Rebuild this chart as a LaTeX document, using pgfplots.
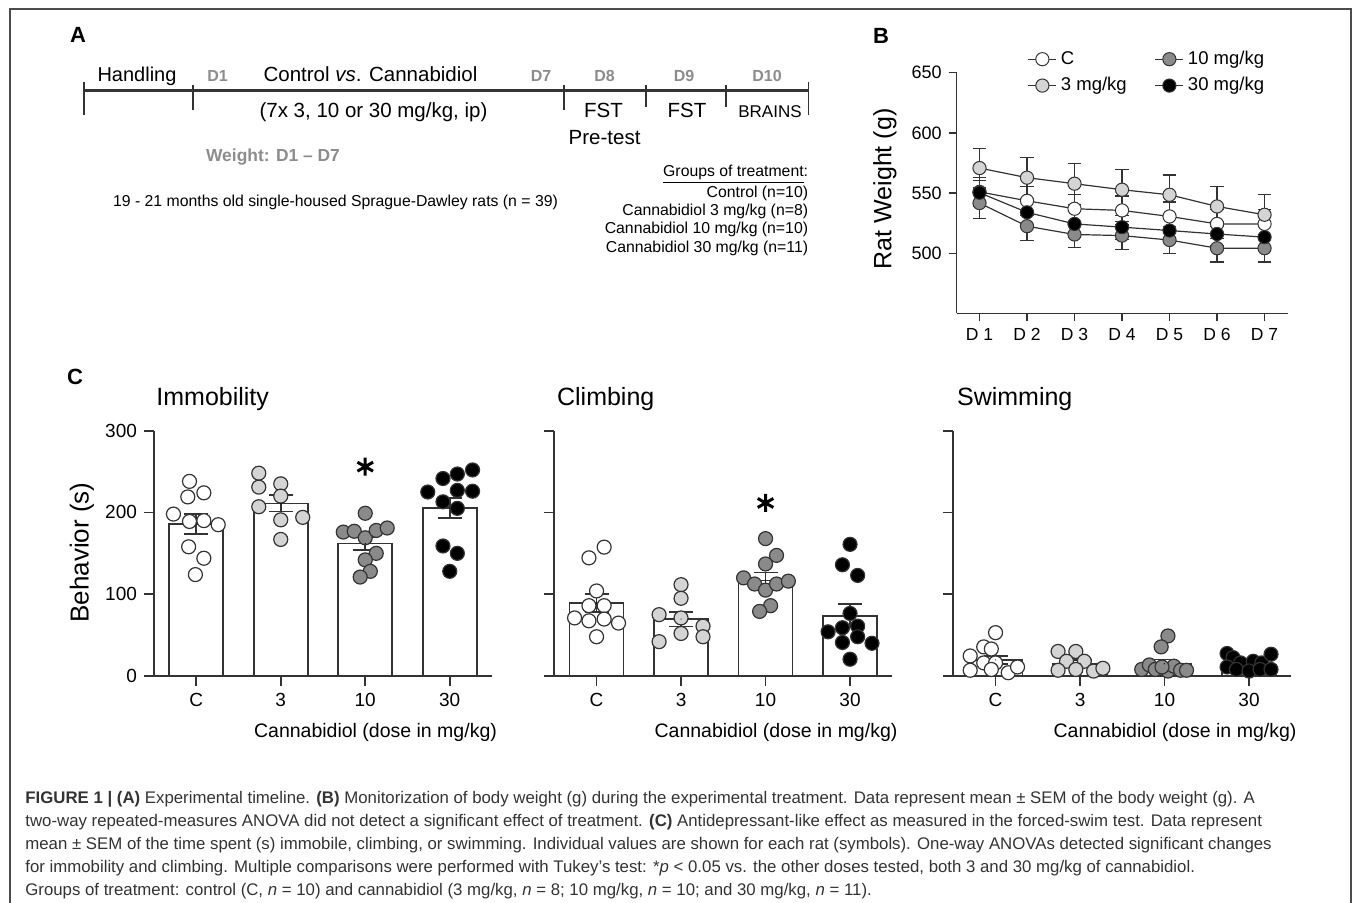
\documentclass[border=0pt]{standalone}
\usepackage{pgfplots}
\pgfplotsset{compat=1.18}
\usepackage{fontspec}
\setmainfont{Liberation Sans}
\definecolor{lg}{HTML}{D4D4D4}
\definecolor{dg}{HTML}{8A8A8A}
\definecolor{ol}{HTML}{333333}
\definecolor{tg}{HTML}{8C8C8C}
\definecolor{capc}{HTML}{333333}
\newcommand{\fs}[1]{\fontsize{#1pt}{#1pt}\selectfont}
\pgfplotsset{
 cpanel/.style={scale only axis, width=169pt, height=122.65pt, xmin=-0.5, xmax=3.5, ymin=0, ymax=300,
  axis lines=left, axis line style={-, line width=0.9pt, ol},
  xtick={0,1,2,3}, xticklabels={C,3,10,30}, ytick={0,100,200,300},
  tick align=outside, major tick length=5pt, tick style={line width=0.9pt, ol},
  tick label style={font=\fs{9.5}}, /pgf/number format/assume math mode=true, clip=false},
 bars/.style={ybar, bar width=27pt, fill=white, draw=ol, line width=0.8pt},
 pts/.style={only marks, mark=*, mark size=3.5pt, color=ol, mark options={fill=#1, draw=ol, line width=0.6pt}},
 sem/.style={only marks, mark=*, mark size=0.01pt, mark options={draw=none, fill=none}, error bars/.cd, y dir=both, y explicit, error bar style={draw=ol, line width=0.8pt}, error mark options={rotate=90, mark size=6pt, draw=ol, line width=0.8pt}},
 star/.style={only marks, mark=asterisk, mark size=4.5pt, line width=1.5pt, black},
 bplot/.style={color=ol, line width=0.6pt, mark=*, mark size=3.3pt, mark options={fill=#1, draw=ol, line width=0.5pt, solid}, error bars/.cd, y dir=both, y explicit, error bar style={line width=0.6pt, ol}, error mark options={rotate=90, mark size=3.3pt, line width=0.6pt, ol}},
}
\begin{document}
\begin{tikzpicture}[x=0.5pt,y=0.5pt]
\useasboundingbox (0,0) rectangle (1355,903);
% frame
\draw[gray!60!black, line width=0.6pt] (10,0) -- (10,894) -- (1351,894) -- (1351,0);

% ---------------- Panel A ----------------
\node[font=\bfseries\fs{11}] at (78,868) {A};
\draw[ol, line width=1.5pt] (84,812.3) -- (808.5,812.3);
\draw[ol, line width=0.8pt] (84,821.3) -- (84,788);
\draw[ol, line width=0.8pt] (192.7,818) -- (192.7,793);
\draw[ol, line width=0.8pt] (564,818) -- (564,793);
\draw[ol, line width=0.8pt] (645.7,818) -- (645.7,796);
\draw[ol, line width=0.8pt] (725.8,818) -- (725.8,796);
\draw[ol, line width=0.8pt] (808.5,821.3) -- (808.5,788);
\begin{scope}[every node/.style={anchor=base, inner sep=0}]
\node[font=\fs{10}] at (137,821) {Handling};
\node[font=\bfseries\fs{8}, text=tg] at (217.5,821) {D1};
\node[font=\fs{10.25}] at (370.5,821) {Control \textit{vs}. Cannabidiol};
\node[font=\bfseries\fs{8}, text=tg] at (541,821) {D7};
\node[font=\bfseries\fs{8}, text=tg] at (604.5,821) {D8};
\node[font=\bfseries\fs{8}, text=tg] at (684,821) {D9};
\node[font=\bfseries\fs{8}, text=tg] at (767,821) {D10};
\node[font=\fs{10.25}] at (373.5,785) {(7x 3, 10 or 30 mg/kg, ip)};
\node[font=\fs{10.25}] at (603.5,785) {FST};
\node[font=\fs{10.25}] at (604.6,758) {Pre-test};
\node[font=\fs{10.25}] at (687,785) {FST};
\node[font=\fs{8.5}] at (770,785) {BRAINS};
\node[font=\bfseries\fs{8.7}, text=tg] at (273,741) {Weight: D1 -- D7};
\node[font=\fs{7.9}] at (335.5,696) {19 - 21 months old single-housed Sprague-Dawley rats (n = 39)};
\end{scope}
\begin{scope}[every node/.style={anchor=base east, inner sep=0, font=\fs{7.9}}]
\node at (808.5,726.3) {\underline{Groups of treatment}:};
\node at (808.5,705.7) {Control (n=10)};
\node at (808.5,687) {Cannabidiol 3 mg/kg (n=8)};
\node at (808.5,669) {Cannabidiol 10 mg/kg (n=10)};
\node at (808.5,650.3) {Cannabidiol 30 mg/kg (n=11)};
\end{scope}

% ---------------- Panel B ----------------
\node[font=\bfseries\fs{11}] at (881,867) {B};
\node[rotate=90, font=\fs{12.5}] at (885,714) {Rat Weight (g)};
\begin{axis}[at={(478.35pt,294.75pt)}, anchor=south west, scale only axis, width=165.8pt, height=120.4pt,
  xmin=0.52, xmax=7.5, ymin=450, ymax=650,
  axis lines=left, axis line style={-, line width=0.7pt, ol},
  xtick={1,...,7}, xticklabels={D 1,D 2,D 3,D 4,D 5,D 6,D 7}, ytick={500,550,600,650},
  tick align=outside, major tick length=4pt, tick style={line width=0.7pt, ol},
  yticklabel style={font=\fs{9}}, xticklabel style={font=\fs{8.75}},
  /pgf/number format/assume math mode=true, clip=false,
  legend columns=2, legend cell align=left,
  legend image code/.code={\draw[mark repeat=2,mark phase=2,#1] plot coordinates {(0pt,0pt) (7pt,0pt) (14pt,0pt)};},
  legend style={draw=none, fill=none, font=\fs{9.25}, at={(0.195,1.125)}, anchor=north west,
    /tikz/every even column/.append style={column sep=12pt}, row sep=1pt}]
\addplot[bplot=white] coordinates {(1,551) +- (0,12) (2,543.6) +- (0,12) (3,537) +- (0,12) (4,535.6) +- (0,12) (5,530.6) +- (0,12) (6,524.4) +- (0,12) (7,524.4) +- (0,12)};
\addlegendentry{C}
\addplot[bplot=dg] coordinates {(1,541.7) +- (0,13) (2,522.5) +- (0,12) (3,515.6) +- (0,11) (4,514.7) +- (0,11.5) (5,511) +- (0,11.5) (6,504.2) +- (0,11.5) (7,504.2) +- (0,11.5)};
\addlegendentry{10 mg/kg}
\addplot[bplot=lg] coordinates {(1,570.8) +- (0,16.5) (2,562.8) +- (0,17) (3,557.8) +- (0,17) (4,552.8) +- (0,16.6) (5,548.6) +- (0,16.4) (6,538.9) +- (0,16.7) (7,532) +- (0,17)};
\addlegendentry{3 mg/kg}
\addplot[bplot=black] coordinates {(1,550.3) +- (0,10) (2,534) +- (0,10) (3,524.4) +- (0,10) (4,521.7) +- (0,10) (5,518.9) +- (0,10) (6,516) +- (0,10) (7,513.4) +- (0,10)};
\addlegendentry{30 mg/kg}
\end{axis}

% ---------------- Panel C ----------------
\node[font=\bfseries\fs{11}] at (75,526) {C};
\node[rotate=90, font=\fs{13}] at (82,350.5) {Behavior (s)};
\begin{scope}[every node/.style={inner sep=0}]
\node[anchor=base west, font=\fs{12.5}] at (156,497) {Immobility};
\node[anchor=base west, font=\fs{12.5}] at (556.7,497) {Climbing};
\node[anchor=base west, font=\fs{12.5}] at (956.7,497) {Swimming};
\node[anchor=base, font=\fs{9.75}] at (375.5,165) {Cannabidiol (dose in mg/kg)};
\node[anchor=base, font=\fs{9.75}] at (776,165) {Cannabidiol (dose in mg/kg)};
\node[anchor=base, font=\fs{9.75}] at (1175,165) {Cannabidiol (dose in mg/kg)};
\end{scope}

% Immobility
\begin{axis}[cpanel, at={(77pt,113.5pt)}, anchor=south west]
\addplot[bars] coordinates {(0,186) (1,211) (2,162) (3,205.5)};
\addplot[pts=white] coordinates {(-0.08,238) (-0.10,219) (0.09,224) (-0.27,198) (-0.08,189) (0.09,190) (0.26,185) (-0.09,158) (0.09,144) (-0.01,124)};
\addplot[pts=lg] coordinates {(0.74,248) (0.74,231) (1,235) (1,220) (0.74,207) (1,191) (1.26,194) (1,167)};
\addplot[pts=dg] coordinates {(2,199) (1.74,176) (1.87,177) (2,169) (2.13,178) (2.26,181) (2.13,150) (2,142) (2.06,128) (1.94,121)};
\addplot[pts=black] coordinates {(2.92,241.5) (3.09,247) (3.27,252) (2.74,225) (3.09,227) (3.27,226) (2.92,213) (3.09,205) (2.92,159) (3.09,150) (3,128)};
\addplot[sem] coordinates {(0,186) +- (0,12) (1,211) +- (0,10) (2,162) +- (0,8) (3,205.5) +- (0,12.5)};
\addplot[star] coordinates {(2,256)};
\end{axis}

% Climbing
\begin{axis}[cpanel, at={(277.15pt,113.5pt)}, anchor=south west, yticklabels={}]
\addplot[bars] coordinates {(0,89) (1,69.6) (2,116.6) (3,73.7)};
\addplot[pts=white] coordinates {(0.09,157.6) (-0.09,144.5) (0,104) (-0.09,86) (0.09,86) (-0.26,71) (-0.09,67.5) (0.09,69.6) (0.26,64.7) (0,48)};
\addplot[pts=lg] coordinates {(1,111.7) (1,95) (0.74,75) (1,71) (1.26,61) (1,52) (1.26,48) (0.74,42)};
\addplot[pts=dg] coordinates {(2,168) (2.13,147.5) (2,137) (1.74,120) (1.87,112.5) (2,105) (2.13,112.5) (2.27,116) (2.06,86) (1.93,79)};
\addplot[pts=black] coordinates {(3,161) (2.91,136) (3.09,123) (3,76.5) (2.91,59) (3.09,61) (2.74,54) (2.91,41) (3.09,48) (3.26,40) (3,20.5)};
\addplot[sem] coordinates {(0,89) +- (0,11) (1,69.6) +- (0,9) (2,116.6) +- (0,10) (3,73.7) +- (0,14)};
\addplot[star] coordinates {(2,211.6)};
\end{axis}

% Swimming
\begin{axis}[cpanel, at={(476.65pt,113.5pt)}, anchor=south west, yticklabels={}]
\addplot[bars] coordinates {(0,19.6) (1,15.5) (2,15) (3,14)};
\addplot[pts=white] coordinates {(0,53) (-0.14,35.6) (-0.05,33) (-0.3,24.5) (-0.14,16) (0,16) (-0.3,7) (-0.05,8) (0.15,4) (0.26,11)};
\addplot[pts=lg] coordinates {(0.74,30) (0.95,30) (0.84,18) (1.05,18) (0.74,7) (0.95,8) (1.16,6) (1.27,9.4)};
\addplot[pts=dg] coordinates {(2.04,49) (1.96,35.6) (1.73,8) (1.82,13.5) (1.89,8) (2.04,6) (2.11,12) (2.19,7) (2.26,7) (1.97,11)};
\addplot[pts=black] coordinates {(2.74,27.5) (2.81,22.5) (2.9,16) (3.05,18) (3.15,16) (3.26,26.6) (2.74,11) (2.85,8) (3,6) (3.13,8) (3.26,8)};
\addplot[sem] coordinates {(0,19.6) +- (0,5) (1,15.5) +- (0,4) (2,15) +- (0,5) (3,14) +- (0,3)};
\end{axis}

% ---------------- Caption ----------------
\begin{scope}[every node/.style={anchor=base west, inner sep=0, text=capc, font=\fs{8.4}}]
\node at (25,99) {\textbf{FIGURE 1 | (A)} Experimental timeline. \textbf{(B)} Monitorization of body weight (g) during the experimental treatment. Data represent mean ± SEM of the body weight (g). A};
\node at (25,76) {two-way repeated-measures ANOVA did not detect a significant effect of treatment. \textbf{(C)} Antidepressant-like effect as measured in the forced-swim test. Data represent};
\node at (25,53) {mean ± SEM of the time spent (s) immobile, climbing, or swimming. Individual values are shown for each rat (symbols). One-way ANOVAs detected significant changes};
\node at (25,30) {for immobility and climbing. Multiple comparisons were performed with Tukey’s test: *\textit{p} < 0.05 vs. the other doses tested, both 3 and 30 mg/kg of cannabidiol.};
\node at (25,7) {Groups of treatment: control (C, \textit{n} = 10) and cannabidiol (3 mg/kg, \textit{n} = 8; 10 mg/kg, \textit{n} = 10; and 30 mg/kg, \textit{n} = 11).};
\end{scope}
\end{tikzpicture}
\end{document}
